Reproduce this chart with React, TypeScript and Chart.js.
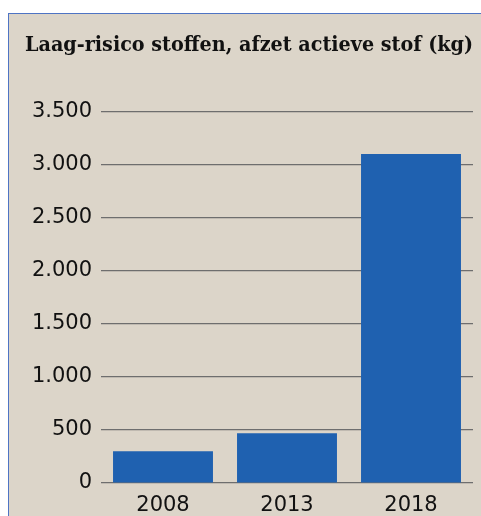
import React, { useEffect, useRef } from "react";
import { Chart, registerables } from "chart.js";

Chart.register(...registerables);

const categories = ["2008", "2013", "2018"];
const values = [300, 470, 3100];
const yTicks = [0, 500, 1000, 1500, 2000, 2500, 3000, 3500];
const title = "Laag-risico stoffen, afzet actieve stof (kg)";

const fmt = (v: number) => String(v).replace(/\B(?=(\d{3})+(?!\d))/g, ".");

export default function App() {
  const ref = useRef<HTMLCanvasElement | null>(null);
  useEffect(() => {
    if (!ref.current) return;
    const chart = new Chart(ref.current, {
      type: "bar",
      data: {
        labels: categories,
        datasets: [
          {
            data: values,
            backgroundColor: "#1f61b0",
            borderWidth: 0,
            categoryPercentage: 1,
            barPercentage: 0.806,
          },
        ],
      },
      options: {
        responsive: false,
        animation: false,
        layout: { padding: { left: 16, right: 8, top: 0, bottom: 0 } },
        plugins: {
          legend: { display: false },
          tooltip: { enabled: false },
          title: {
            display: true,
            text: title,
            align: "start",
            color: "#111",
            font: { family: "'DejaVu Serif'", size: 20.5, weight: "bold" },
            padding: { top: 19, bottom: 54 },
          },
        },
        scales: {
          x: {
            grid: { display: false, drawTicks: false },
            border: { display: false },
            ticks: {
              color: "#111",
              padding: 10,
              font: { family: "'DejaVu Sans'", size: 21 },
            },
            afterFit: (s: any) => {
              s.height = 33;
            },
          },
          y: {
            min: 0,
            max: 3500,
            afterBuildTicks: (s: any) => {
              s.ticks = yTicks.map((v) => ({ value: v }));
            },
            grid: { color: "#6e6e6e", lineWidth: 1.2, drawTicks: false },
            border: { display: false },
            ticks: {
              color: "#111",
              padding: 9,
              font: { family: "'DejaVu Sans'", size: 21 },
              callback: (v: any) => fmt(Number(v)),
            },
            afterFit: (s: any) => {
              s.width = 76;
            },
          },
        },
      },
    });
    return () => chart.destroy();
  }, []);

  return (
    <div style={{ position: "fixed", inset: 0, background: "#fff", overflow: "hidden" }}>
      <div
        style={{
          position: "absolute",
          left: 8,
          top: 13,
          width: 472,
          height: 502,
          background: "#dcd5c9",
          borderLeft: "1px solid #4f74c4",
          borderTop: "1px solid #4f74c4",
        }}
      >
        <canvas ref={ref} width={472} height={502} style={{ display: "block" }} />
      </div>
    </div>
  );
}
